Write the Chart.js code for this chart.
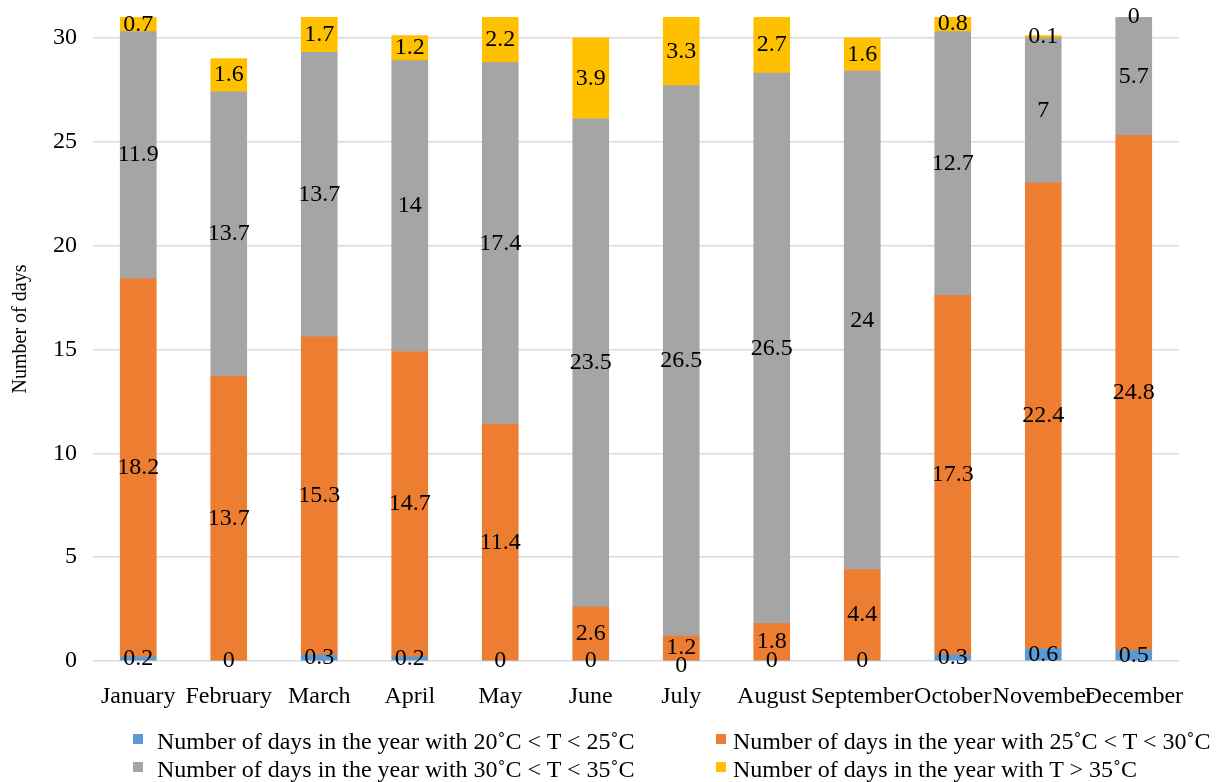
<!DOCTYPE html>
<html>
<head>
<meta charset="utf-8">
<script src="https://cdn.jsdelivr.net/npm/chart.js@4.4.1/dist/chart.umd.min.js"></script>
<style>
  html, body { margin: 0; padding: 0; background: #ffffff; }
  #wrap { position: relative; width: 1230px; height: 782px; }
  #chart { position: absolute; left: 0; top: 0; }
  .legend-item { position: absolute; font-family: "Liberation Serif", "Times New Roman", serif;
    font-size: 24px; line-height: 28px; color: #000; white-space: nowrap; }
  .legend-swatch { position: absolute; width: 10px; height: 10px; }
</style>
</head>
<body>
<div id="wrap">
  <canvas id="chart" width="1230" height="782"></canvas>
  <div id="legend"></div>
</div>
<script>
// Months on the x axis
const months = ['January', 'February', 'March', 'April', 'May', 'June',
  'July', 'August', 'September', 'October', 'November', 'December'];

// Number of days per month in each temperature band
const days20to25 = [0.2, 0, 0.3, 0.2, 0, 0, 0, 0, 0, 0.3, 0.6, 0.5];
const days25to30 = [18.2, 13.7, 15.3, 14.7, 11.4, 2.6, 1.2, 1.8, 4.4, 17.3, 22.4, 24.8];
const days30to35 = [11.9, 13.7, 13.7, 14, 17.4, 23.5, 26.5, 26.5, 24, 12.7, 7, 5.7];
const daysAbove35 = [0.7, 1.6, 1.7, 1.2, 2.2, 3.9, 3.3, 2.7, 1.6, 0.8, 0.1, 0];

const seriesNames = [
  'Number of days in the year with 20\u02daC < T < 25\u02daC',
  'Number of days in the year with 25\u02daC < T < 30\u02daC',
  'Number of days in the year with 30\u02daC < T < 35\u02daC',
  'Number of days in the year with T > 35\u02daC'
];
const seriesColors = ['#5B9BD5', '#ED7D31', '#A5A5A5', '#FFC000'];

// y axis ticks every 5 days
const yTicks = [0, 5, 10, 15, 20, 25, 30];
const yTitle = 'Number of days';

const FONT = '"Liberation Serif", "Times New Roman", serif';

// Writes each segment's value in the middle of the segment
const segmentLabels = {
  id: 'segmentLabels',
  afterDatasetsDraw(chart) {
    const ctx = chart.ctx;
    ctx.save();
    ctx.font = '24px ' + FONT;
    ctx.fillStyle = '#000';
    ctx.textAlign = 'center';
    ctx.textBaseline = 'middle';
    const n = chart.data.labels.length;
    for (let i = 0; i < n; i++) {
      const pos = chart.data.datasets.map((ds, d) => {
        const el = chart.getDatasetMeta(d).data[i];
        return { x: el.x, y: (el.y + el.base) / 2, text: String(ds.data[i]) };
      });
      // keep labels of thin neighbouring segments apart
      for (let k = pos.length - 2; k >= 0; k--) {
        if (pos[k].y - pos[k + 1].y < 18) pos[k].y = pos[k + 1].y + 18;
      }
      pos.forEach(p => ctx.fillText(p.text, p.x, p.y));
    }
    ctx.restore();
  }
};

// Rotated y axis title, left of the tick labels
const axisTitle = {
  id: 'axisTitle',
  afterDraw(chart) {
    const ctx = chart.ctx;
    ctx.save();
    ctx.font = '20px ' + FONT;
    ctx.fillStyle = '#000';
    ctx.textAlign = 'center';
    ctx.textBaseline = 'middle';
    ctx.translate(21, 329);
    ctx.rotate(-Math.PI / 2);
    ctx.fillText(yTitle, 0, 0);
    ctx.restore();
  }
};

const datasets = [days20to25, days25to30, days30to35, daysAbove35].map((vals, k) => ({
  label: seriesNames[k],
  data: vals,
  backgroundColor: seriesColors[k],
  borderWidth: 0,
  barThickness: 36
}));

const chart = new Chart(document.getElementById('chart'), {
  type: 'bar',
  data: { labels: months, datasets },
  options: {
    responsive: false,
    animation: false,
    layout: { padding: { top: 17, right: 51, bottom: 61, left: 0 } },
    plugins: { legend: { display: false }, tooltip: { enabled: false } },
    scales: {
      x: {
        stacked: true,
        grid: { display: false },
        border: { display: false },
        ticks: { color: '#000', font: { family: FONT, size: 24 }, padding: 13, maxRotation: 0, autoSkip: false },
        afterFit(scale) { scale.height = 60; scale.paddingLeft = 0; scale.paddingRight = 0; }
      },
      y: {
        stacked: true,
        min: 0,
        max: 31,
        border: { display: false },
        grid: { color: '#D9D9D9', lineWidth: 1.5, drawTicks: false },
        ticks: { color: '#000', font: { family: FONT, size: 24 }, padding: 16, stepSize: 5 },
        afterBuildTicks(scale) { scale.ticks = yTicks.map(v => ({ value: v })); },
        afterFit(scale) { scale.width = 93; scale.paddingTop = 0; scale.paddingBottom = 0; }
      }
    }
  },
  plugins: [segmentLabels, axisTitle]
});

// Two-column legend below the plot
const legendPos = [
  { sx: 133, tx: 157, top: 727 },
  { sx: 716, tx: 733, top: 727 },
  { sx: 133, tx: 157, top: 755 },
  { sx: 716, tx: 733, top: 755 }
];
const legendEl = document.getElementById('legend');
chart.data.datasets.forEach((ds, k) => {
  const p = legendPos[k];
  const sw = document.createElement('div');
  sw.className = 'legend-swatch';
  sw.style.left = p.sx + 'px';
  sw.style.top = (p.top + 7) + 'px';
  sw.style.background = ds.backgroundColor;
  const tx = document.createElement('div');
  tx.className = 'legend-item';
  tx.style.left = p.tx + 'px';
  tx.style.top = p.top + 'px';
  tx.textContent = ds.label;
  legendEl.appendChild(sw);
  legendEl.appendChild(tx);
});
</script>
</body>
</html>
